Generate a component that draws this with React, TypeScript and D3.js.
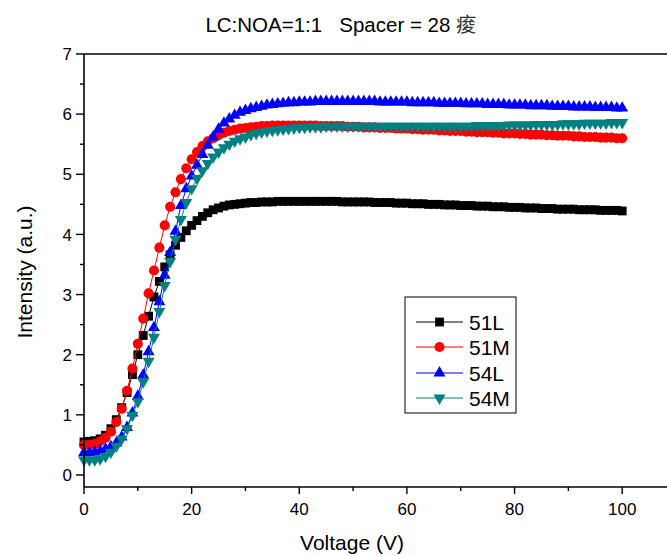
import React from "react";
import * as d3 from "d3";

const voltage: number[] = d3.range(0, 101, 1);

const s51L: number[] = [
  0.55, 0.56, 0.57, 0.60, 0.66, 0.77, 0.92, 1.12, 1.37, 1.67, 2.00,
  2.32, 2.64, 2.96, 3.22, 3.46, 3.66, 3.82, 3.95, 4.06, 4.15,
  4.23, 4.30, 4.36, 4.41, 4.44, 4.47, 4.49, 4.50, 4.51, 4.52,
  4.53, 4.53, 4.54, 4.54, 4.54, 4.55, 4.55, 4.55, 4.55, 4.55,
  4.55, 4.55, 4.55, 4.55, 4.55, 4.55, 4.55, 4.54, 4.54, 4.54,
  4.54, 4.54, 4.54, 4.53, 4.53, 4.53, 4.53, 4.52, 4.52, 4.52,
  4.51, 4.51, 4.51, 4.50, 4.50, 4.50, 4.49, 4.49, 4.49, 4.48,
  4.48, 4.48, 4.47, 4.47, 4.47, 4.46, 4.46, 4.46, 4.45, 4.45,
  4.45, 4.44, 4.44, 4.44, 4.43, 4.43, 4.43, 4.42, 4.42, 4.42,
  4.42, 4.41, 4.41, 4.41, 4.41, 4.40, 4.40, 4.40, 4.40, 4.39,
];

const s51M: number[] = [
  0.50, 0.50, 0.52, 0.56, 0.62, 0.72, 0.88, 1.10, 1.40, 1.77, 2.18,
  2.60, 3.02, 3.40, 3.78, 4.15, 4.46, 4.70, 4.92, 5.10, 5.25,
  5.37, 5.47, 5.55, 5.60, 5.65, 5.69, 5.72, 5.74, 5.76, 5.77,
  5.78, 5.79, 5.80, 5.80, 5.81, 5.81, 5.81, 5.81, 5.81, 5.81,
  5.81, 5.81, 5.81, 5.80, 5.80, 5.80, 5.80, 5.80, 5.79, 5.79,
  5.79, 5.78, 5.78, 5.78, 5.77, 5.77, 5.77, 5.76, 5.76, 5.76,
  5.75, 5.75, 5.74, 5.74, 5.74, 5.73, 5.73, 5.72, 5.72, 5.72,
  5.71, 5.71, 5.70, 5.70, 5.70, 5.69, 5.69, 5.68, 5.68, 5.68,
  5.67, 5.67, 5.66, 5.66, 5.66, 5.65, 5.65, 5.64, 5.64, 5.64,
  5.63, 5.63, 5.62, 5.62, 5.62, 5.61, 5.61, 5.61, 5.60, 5.60,
];

const s54L: number[] = [
  0.37, 0.37, 0.38, 0.40, 0.43, 0.47, 0.53, 0.63, 0.79, 1.03, 1.31,
  1.66, 2.05, 2.45, 2.88, 3.32, 3.70, 4.05, 4.48, 4.76, 4.97,
  5.15, 5.33, 5.48, 5.62, 5.75, 5.85, 5.92, 5.98, 6.03, 6.06,
  6.09, 6.11, 6.13, 6.15, 6.16, 6.17, 6.18, 6.19, 6.19, 6.20,
  6.20, 6.20, 6.21, 6.21, 6.21, 6.21, 6.21, 6.21, 6.21, 6.21,
  6.21, 6.21, 6.21, 6.21, 6.20, 6.20, 6.20, 6.20, 6.20, 6.20,
  6.19, 6.19, 6.19, 6.19, 6.19, 6.18, 6.18, 6.18, 6.18, 6.18,
  6.17, 6.17, 6.17, 6.17, 6.16, 6.16, 6.16, 6.16, 6.15, 6.15,
  6.15, 6.15, 6.14, 6.14, 6.14, 6.14, 6.13, 6.13, 6.13, 6.13,
  6.12, 6.12, 6.12, 6.12, 6.11, 6.11, 6.11, 6.11, 6.10, 6.10,
];

const s54M: number[] = [
  0.25, 0.25, 0.25, 0.27, 0.31, 0.38, 0.48, 0.60, 0.77, 0.99, 1.22,
  1.55, 1.89, 2.29, 2.72, 3.15, 3.55, 3.92, 4.25, 4.53, 4.76,
  4.93, 5.06, 5.18, 5.29, 5.37, 5.44, 5.50, 5.55, 5.59, 5.62,
  5.66, 5.68, 5.70, 5.72, 5.73, 5.74, 5.75, 5.76, 5.77, 5.78,
  5.78, 5.79, 5.79, 5.79, 5.80, 5.80, 5.80, 5.80, 5.80, 5.80,
  5.80, 5.80, 5.80, 5.80, 5.80, 5.80, 5.80, 5.80, 5.80, 5.80,
  5.80, 5.80, 5.80, 5.80, 5.80, 5.80, 5.80, 5.80, 5.80, 5.80,
  5.80, 5.80, 5.81, 5.81, 5.81, 5.81, 5.81, 5.81, 5.82, 5.82,
  5.82, 5.82, 5.82, 5.83, 5.83, 5.83, 5.83, 5.83, 5.84, 5.84,
  5.84, 5.84, 5.85, 5.85, 5.85, 5.85, 5.85, 5.86, 5.86, 5.86,
];

const seriesNames: string[] = ["51L", "51M", "54L", "54M"];
const seriesColors: string[] = ["#000000", "#ff0000", "#0000ff", "#008080"];
const yTicks: number[] = [0, 1, 2, 3, 4, 5, 6, 7];
const yMinor: number[] = [0.5, 1.5, 2.5, 3.5, 4.5, 5.5, 6.5];
const xTicks: number[] = [0, 20, 40, 60, 80, 100];
const xMinor: number[] = [10, 30, 50, 70, 90];

const W = 667;
const H = 556;
const FONT = "Arial, 'Liberation Sans', sans-serif";

function markerPath(i: number): { d: string; rot: number } {
  const types = [d3.symbolSquare, d3.symbolCircle, d3.symbolTriangle, d3.symbolTriangle];
  const sizes = [78, 80, 62, 62];
  const d = d3.symbol().type(types[i]).size(sizes[i])() as string;
  return { d, rot: i === 3 ? 180 : 0 };
}

export default function App() {
  const x = d3.scaleLinear().domain([0, 110]).range([84, 676]);
  const y = d3.scaleLinear().domain([-0.2, 7]).range([487, 54]);
  const allSeries = [s51L, s51M, s54L, s54M];
  const line = d3
    .line<number>()
    .x((_, i) => x(voltage[i]))
    .y((d) => y(d));

  const left = x(0);
  const bottom = y(-0.2);
  const top = y(7);

  const legendX = 405;
  const legendY = 297;
  const legendRows = [322, 347, 373, 398];

  return (
    <svg
      width={W}
      height={H}
      style={{ position: "absolute", left: 0, top: 0, background: "#fff" }}
      fontFamily={FONT}
    >
      <rect x={0} y={0} width={W} height={H} fill="#fff" />
      {/* title */}
      <text x={341} y={32} textAnchor="middle" fontSize={20.5} fill="#000">
        LC:NOA=1:1{"\u00a0\u00a0\u00a0"}Spacer = 28{" "}
        <tspan fontFamily="'Noto Sans CJK TC', 'Noto Sans CJK SC', sans-serif" fill="#333">
          痠
        </tspan>
      </text>

      {/* series */}
      {allSeries.map((s, i) => {
        const m = markerPath(i);
        return (
          <g key={seriesNames[i]}>
            <path d={line(s) as string} fill="none" stroke={seriesColors[i]} strokeWidth={1} />
            {s.map((v, j) => (
              <path
                key={j}
                d={m.d}
                fill={seriesColors[i]}
                transform={`translate(${x(voltage[j])},${y(v)}) rotate(${m.rot})`}
              />
            ))}
          </g>
        );
      })}

      {/* frame */}
      <line x1={left} x2={W + 10} y1={top} y2={top} stroke="#000" strokeWidth={1.6} />
      <line x1={left} x2={W + 10} y1={bottom} y2={bottom} stroke="#000" strokeWidth={1.6} />
      <line x1={left} x2={left} y1={top} y2={bottom} stroke="#000" strokeWidth={1.6} />

      {/* y ticks */}
      {yTicks.map((t) => (
        <g key={"y" + t}>
          <line x1={left - 8} x2={left} y1={y(t)} y2={y(t)} stroke="#000" strokeWidth={1.4} />
          <text x={left - 12} y={y(t)} dy="0.36em" textAnchor="end" fontSize={17} fill="#000">
            {t}
          </text>
        </g>
      ))}
      {yMinor.map((t) => (
        <line key={"ym" + t} x1={left - 4} x2={left} y1={y(t)} y2={y(t)} stroke="#000" strokeWidth={1.4} />
      ))}

      {/* x ticks */}
      {xTicks.map((t) => (
        <g key={"x" + t}>
          <line x1={x(t)} x2={x(t)} y1={bottom} y2={bottom + 7} stroke="#000" strokeWidth={1.4} />
          <text x={x(t)} y={bottom + 28} textAnchor="middle" fontSize={17} fill="#000">
            {t}
          </text>
        </g>
      ))}
      {xMinor.map((t) => (
        <line key={"xm" + t} x1={x(t)} x2={x(t)} y1={bottom} y2={bottom + 4} stroke="#000" strokeWidth={1.4} />
      ))}

      {/* axis labels */}
      <text x={352} y={550} textAnchor="middle" fontSize={21} fill="#000">
        Voltage (V)
      </text>
      <text
        transform={`translate(32,272) rotate(-90)`}
        textAnchor="middle"
        fontSize={21}
        fill="#000"
      >
        Intensity (a.u.)
      </text>

      {/* legend */}
      <rect x={legendX} y={legendY} width={111} height={116} fill="#fff" stroke="#000" strokeWidth={1} />
      {seriesNames.map((n, i) => {
        const m = markerPath(i);
        const ry = legendRows[i];
        return (
          <g key={"lg" + n}>
            <line x1={416} x2={463} y1={ry} y2={ry} stroke={seriesColors[i]} strokeWidth={1} />
            <path d={m.d} fill={seriesColors[i]} transform={`translate(439.5,${ry}) rotate(${m.rot})`} />
            <text x={469} y={ry} dy="0.36em" fontSize={21} fill="#000">
              {n}
            </text>
          </g>
        );
      })}
    </svg>
  );
}
